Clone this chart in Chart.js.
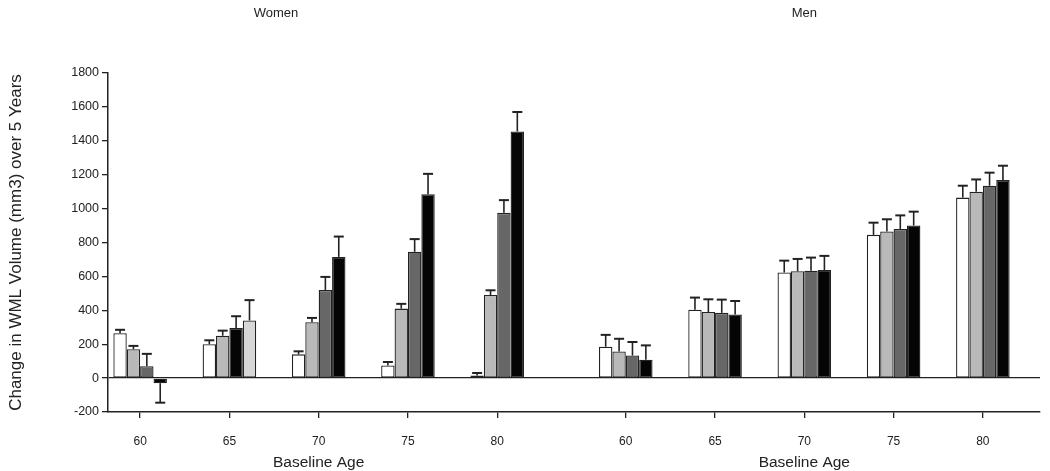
<!DOCTYPE html>
<html>
<head>
<meta charset="UTF-8">
<script src="https://cdn.jsdelivr.net/npm/chart.js"></script>
<style>
  * { margin: 0; padding: 0; }
  body { background: #fff; width: 1050px; height: 471px; overflow: hidden; }
  #wrap { position: relative; width: 1050px; height: 471px; }
</style>
</head>
<body>
<div id="wrap"><canvas id="chart" width="1050" height="471"></canvas></div>
<script>
const ages = ['60', '65', '70', '75', '80'];
const panels = ['Women', 'Men'];
const yTicks = [-200, 0, 200, 400, 600, 800, 1000, 1200, 1400, 1600, 1800];

// women, one array per bar shade (white, light gray, dark gray, black)
const women1 = [265, 200, 140, 75, 15];
const women2 = [170, 250, 330, 410, 490];
const women3 = [70, 295, 520, 745, 975];
const women4 = [-30, 340, 715, 1085, 1455];
const womenErr1 = [20, 23, 18, 20, 15];
const womenErr2 = [20, 30, 25, 28, 28];
const womenErr3 = [73, 70, 77, 75, 75];
const womenErr4 = [115, 120, 120, 120, 115];

// men
const men1 = [185, 403, 623, 845, 1065];
const men2 = [157, 390, 630, 865, 1100];
const men3 = [133, 385, 633, 880, 1135];
const men4 = [108, 375, 638, 900, 1168];
const menErr1 = [70, 72, 70, 72, 70];
const menErr2 = [75, 75, 73, 72, 72];
const menErr3 = [80, 78, 78, 80, 77];
const menErr4 = [85, 80, 83, 82, 85];

const INK = '#222';
const FONT = '"Liberation Sans", Arial, sans-serif';
const fills = ['#ffffff', '#b9b9b9', '#676767', '#050505'];
// the 65 group for women swaps shades in the original figure
const oddFills = { 2: { 1: '#050505' }, 3: { 1: '#d6d6d6' } };
const MEN_SHIFT = 5.44;

const womenSeries = [[women1, womenErr1], [women2, womenErr2], [women3, womenErr3], [women4, womenErr4]];
const menSeries = [[men1, menErr1], [men2, menErr2], [men3, menErr3], [men4, menErr4]];

const positions = ages.map((a, i) => i).concat(ages.map((a, i) => i + MEN_SHIFT));

const datasets = womenSeries.map((w, s) => {
  const m = menSeries[s];
  const values = w[0].concat(m[0]);
  return {
    label: 'series ' + (s + 1),
    data: values.map((v, i) => ({ x: positions[i], y: v })),
    errors: w[1].concat(m[1]),
    backgroundColor: values.map((v, i) => (oddFills[s] && oddFills[s][i]) || fills[s]),
    borderColor: INK,
    borderWidth: 1.3,
    borderSkipped: false,
    barPercentage: 1,
    categoryPercentage: 0.6
  };
});

const errorBars = {
  id: 'errorBars',
  afterDatasetsDraw(chart) {
    const ctx = chart.ctx;
    const y = chart.scales.y;
    ctx.save();
    ctx.strokeStyle = INK;
    chart.data.datasets.forEach((ds, i) => {
      chart.getDatasetMeta(i).data.forEach((bar, j) => {
        const v = ds.data[j].y;
        const e = ds.errors[j];
        const end = y.getPixelForValue(v < 0 ? v - e : v + e);
        ctx.lineWidth = 1.6;
        ctx.beginPath();
        ctx.moveTo(bar.x, bar.y);
        ctx.lineTo(bar.x, end);
        ctx.stroke();
        ctx.lineWidth = 2;
        ctx.beginPath();
        ctx.moveTo(bar.x - 5, end);
        ctx.lineTo(bar.x + 5, end);
        ctx.stroke();
      });
    });
    ctx.restore();
  }
};

const panelText = {
  id: 'panelText',
  afterDraw(chart) {
    const ctx = chart.ctx;
    const x = chart.scales.x;
    ctx.save();
    ctx.fillStyle = INK;
    ctx.textAlign = 'center';
    ctx.textBaseline = 'middle';
    ctx.font = '13px ' + FONT;
    ctx.fillText(panels[0], 276, 13);
    ctx.fillText(panels[1], x.getPixelForValue(MEN_SHIFT + 2), 13);
    ctx.font = '15.5px ' + FONT;
    ctx.fillText('Baseline Age', x.getPixelForValue(2), 463);
    ctx.fillText('Baseline Age', x.getPixelForValue(MEN_SHIFT + 2), 463);
    ctx.restore();
  }
};

new Chart(document.getElementById('chart'), {
  type: 'bar',
  data: { datasets },
  plugins: [errorBars, panelText],
  options: {
    responsive: false,
    animation: false,
    layout: { padding: { top: 73, right: 10, bottom: 0, left: 0 } },
    plugins: { legend: { display: false }, tooltip: { enabled: false } },
    scales: {
      x: {
        type: 'linear',
        min: -0.36,
        max: 10.08,
        offset: false,
        afterBuildTicks: (scale) => { scale.ticks = positions.map(v => ({ value: v })); },
        afterFit: (scale) => { scale.height = 59; },
        grid: { offset: false, drawOnChartArea: false, tickLength: 6, tickColor: INK, lineWidth: 1.3 },
        border: { color: INK, width: 1.5 },
        ticks: {
          autoSkip: false,
          maxRotation: 0,
          padding: 16,
          color: INK,
          font: { family: FONT, size: 12 },
          callback: (value, index) => ages[index % ages.length]
        }
      },
      y: {
        min: yTicks[0],
        max: yTicks[yTicks.length - 1],
        afterBuildTicks: (scale) => { scale.ticks = yTicks.map(v => ({ value: v })); },
        afterFit: (scale) => { scale.width = 108; },
        grid: {
          color: (c) => (c.tick && c.tick.value === 0 ? INK : 'rgba(0,0,0,0)'),
          lineWidth: 1.3,
          tickColor: INK,
          tickLength: 6
        },
        border: { color: INK, width: 1.5 },
        ticks: {
          padding: 3,
          color: INK,
          font: { family: FONT, size: 12.5 },
          callback: (value) => String(value)
        },
        title: {
          display: true,
          text: 'Change in WML Volume (mm3) over 5 Years',
          color: INK,
          padding: { top: 6, bottom: 0 },
          font: { family: FONT, size: 17 }
        }
      }
    }
  }
});
</script>
</body>
</html>
